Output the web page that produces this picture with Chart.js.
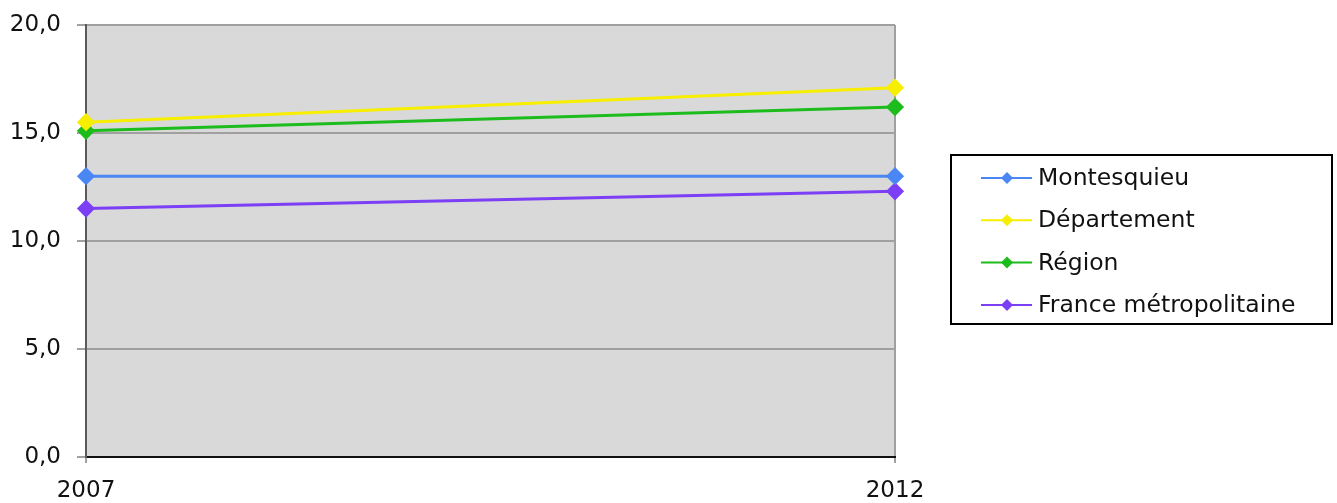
<!DOCTYPE html>
<html lang="fr">
<head>
<meta charset="UTF-8" />
<title>Évolution 2007 - 2012</title>
<script src="https://cdn.jsdelivr.net/npm/chart.js"></script>
<style>
    html, body { margin: 0; padding: 0; background: #fff; }
    #wrap { width: 1337px; height: 503px; position: relative; }
</style>
</head>
<body>
<div id="wrap"><canvas id="graphique"></canvas></div>
<script>
    const annees = ["2007", "2012"];
    const montesquieu = [13.0, 13.0];
    const departement = [15.5, 17.1];
    const region = [15.1, 16.2];
    const france = [11.5, 12.3];
    const graduations = [0, 5, 10, 15, 20];

    const police = "'DejaVu Sans', sans-serif";

    function serie(nom, valeurs, couleur) {
        return {
            label: nom,
            data: valeurs,
            borderColor: couleur,
            backgroundColor: couleur,
            borderWidth: 3,
            pointStyle: "rectRot",
            pointRadius: 7,
            pointHoverRadius: 7,
            tension: 0
        };
    }

    // légende encadrée dessinée à droite du graphique
    const legendeEncadree = {
        id: "legendeEncadree",
        afterDraw(chart) {
            const ctx = chart.ctx;
            ctx.save();
            ctx.strokeStyle = "#000";
            ctx.lineWidth = 2;
            ctx.strokeRect(951, 155, 381, 169);
            ctx.font = "23.5px " + police;
            ctx.textBaseline = "middle";
            chart.data.datasets.forEach((ds, i) => {
                const y = 178 + i * 42.3;
                ctx.strokeStyle = ds.borderColor;
                ctx.lineWidth = 2;
                ctx.beginPath();
                ctx.moveTo(981, y);
                ctx.lineTo(1032, y);
                ctx.stroke();
                ctx.fillStyle = ds.borderColor;
                ctx.beginPath();
                ctx.moveTo(1007, y - 6);
                ctx.lineTo(1013, y);
                ctx.lineTo(1007, y + 6);
                ctx.lineTo(1001, y);
                ctx.closePath();
                ctx.fill();
                ctx.fillStyle = "#111";
                ctx.fillText(ds.label, 1038, y + 1);
            });
            ctx.restore();
        }
    };

    // fond gris de la zone de tracé
    const fondZone = {
        id: "fondZone",
        beforeDraw(chart) {
            const a = chart.chartArea;
            chart.ctx.save();
            chart.ctx.fillStyle = "#d9d9d9";
            chart.ctx.fillRect(a.left, a.top, a.right - a.left, a.bottom - a.top);
            chart.ctx.restore();
        }
    };

    new Chart(document.getElementById("graphique"), {
        type: "line",
        data: {
            labels: annees,
            datasets: [
                serie("Montesquieu", montesquieu, "#4a87f5"),
                serie("Département", departement, "#f7ee00"),
                serie("Région", region, "#1cbc1c"),
                serie("France métropolitaine", france, "#7c3ff6")
            ]
        },
        options: {
            responsive: true,
            maintainAspectRatio: false,
            animation: false,
            layout: { autoPadding: false, padding: { top: 25, right: 442, left: 0, bottom: 0 } },
            plugins: {
                legend: { display: false },
                tooltip: { enabled: false }
            },
            scales: {
                x: {
                    offset: false,
                    afterFit(s) { s.height = 46; s.paddingLeft = 0; s.paddingRight = 0; },
                    grid: { color: "#a0a0a0", lineWidth: 2, tickLength: 6, drawOnChartArea: true },
                    border: { color: "#111", width: 2 },
                    ticks: { color: "#111", font: { family: police, size: 23 }, padding: 14, maxRotation: 0 }
                },
                y: {
                    min: 0,
                    max: 20,
                    afterFit(s) { s.width = 86; s.paddingTop = 0; s.paddingBottom = 0; },
                    afterBuildTicks(s) { s.ticks = graduations.map(v => ({ value: v })); },
                    grid: { color: "#a0a0a0", lineWidth: 2, tickLength: 9 },
                    border: { color: "#5a5a5a", width: 2 },
                    ticks: {
                        color: "#111",
                        font: { family: police, size: 23 },
                        padding: 16,
                        callback: v => v.toFixed(1).replace(".", ",")
                    }
                }
            }
        },
        plugins: [fondZone, legendeEncadree]
    });
</script>
</body>
</html>
